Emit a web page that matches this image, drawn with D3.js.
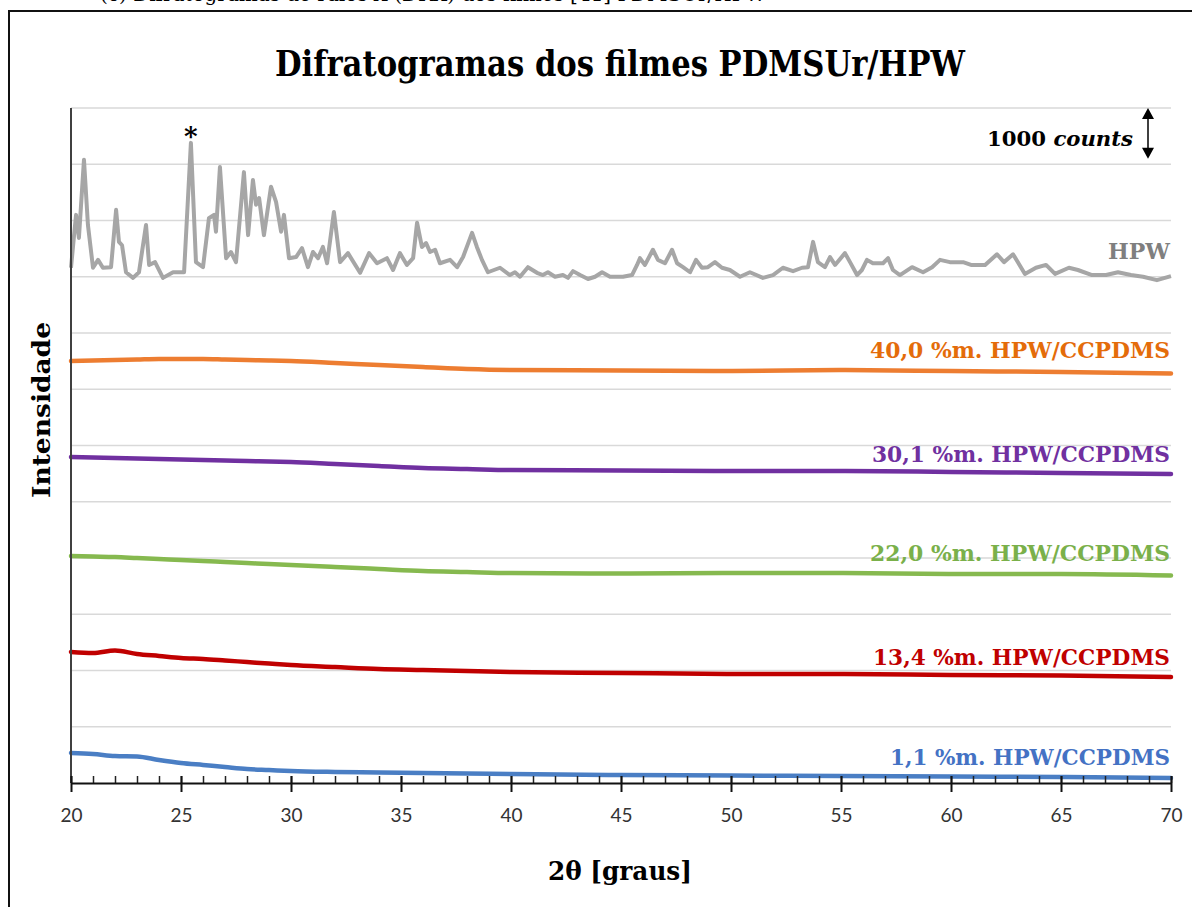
<!DOCTYPE html>
<html>
<head>
<meta charset="utf-8">
<script src="https://cdn.jsdelivr.net/npm/d3@7"></script>
<style>
  body { margin: 0; background: #fff; }
  svg { display: block; }
</style>
</head>
<body>
<svg id="chart"></svg>
<script>
// Chart data
const xTicks = [20, 25, 30, 35, 40, 45, 50, 55, 60, 65, 70];
const angles = [20, 21, 22, 23, 24, 25, 26, 27, 28, 29, 30, 32, 34, 36, 38, 40, 45, 50, 55, 60, 65, 70];

const blueCounts = [533, 516, 480, 471, 409, 356, 320, 284, 249, 231, 213, 196, 187, 178, 169, 160, 142, 133, 124, 116, 107, 89];
const redCounts = [2329, 2311, 2356, 2293, 2258, 2222, 2204, 2178, 2151, 2124, 2098, 2062, 2027, 2009, 1991, 1973, 1956, 1938, 1938, 1920, 1911, 1884];
const greenCounts = [4036, 4027, 4018, 4000, 3982, 3964, 3947, 3929, 3911, 3893, 3876, 3840, 3804, 3769, 3751, 3733, 3724, 3733, 3733, 3716, 3716, 3689];
const purpleCounts = [5796, 5787, 5778, 5769, 5760, 5751, 5742, 5733, 5724, 5716, 5707, 5671, 5636, 5600, 5582, 5564, 5556, 5547, 5547, 5529, 5511, 5493];
const orangeCounts = [7502, 7511, 7520, 7529, 7538, 7538, 7538, 7529, 7520, 7511, 7502, 7467, 7431, 7396, 7360, 7342, 7333, 7324, 7342, 7324, 7307, 7280];

// HPW pattern: [2theta, counts]
const hpwPoints = [
  [20.00, 9160], [20.14, 9740], [20.23, 10100], [20.36, 9690], [20.59, 11080], [20.77, 9920],
  [21.00, 9160], [21.23, 9300], [21.45, 9160], [21.82, 9170], [22.05, 10190], [22.18, 9620],
  [22.32, 9560], [22.50, 9080], [22.82, 8980], [23.09, 9080], [23.41, 9920], [23.55, 9210],
  [23.82, 9260], [24.18, 8980], [24.64, 9080], [25.14, 9080], [25.45, 11380], [25.68, 9260],
  [26.00, 9170], [26.27, 10040], [26.50, 10100], [26.59, 9800], [26.77, 10950], [27.05, 9330],
  [27.27, 9440], [27.50, 9260], [27.86, 10860], [28.05, 9740], [28.27, 10720], [28.41, 10280],
  [28.55, 10400], [28.77, 9740], [29.09, 10600], [29.32, 10330], [29.55, 9800], [29.68, 10100],
  [29.91, 9330], [30.23, 9350], [30.50, 9510], [30.77, 9170], [31.00, 9440], [31.23, 9330],
  [31.45, 9530], [31.64, 9240], [31.95, 10150], [32.23, 9260], [32.59, 9420], [33.14, 9070],
  [33.55, 9420], [33.91, 9240], [34.36, 9330], [34.64, 9120], [34.95, 9420], [35.27, 9210],
  [35.55, 9330], [35.73, 9960], [35.95, 9530], [36.14, 9600], [36.32, 9440], [36.55, 9480],
  [36.77, 9240], [37.23, 9300], [37.55, 9170], [37.82, 9350], [38.23, 9780], [38.45, 9530],
  [38.68, 9300], [38.95, 9080], [39.50, 9160], [39.95, 9030], [40.18, 9080], [40.41, 9000],
  [40.77, 9170], [41.18, 9070], [41.45, 9030], [41.68, 9080], [42.00, 9000], [42.36, 9030],
  [42.59, 8980], [42.82, 9100], [43.14, 9030], [43.50, 8960], [43.82, 9000], [44.14, 9080],
  [44.50, 9000], [45.09, 9000], [45.50, 9030], [45.73, 9210], [45.86, 9330], [46.09, 9210],
  [46.45, 9480], [46.68, 9300], [47.00, 9240], [47.32, 9480], [47.55, 9240], [47.82, 9170],
  [48.14, 9080], [48.41, 9300], [48.68, 9160], [48.95, 9170], [49.27, 9260], [49.59, 9160],
  [49.95, 9120], [50.41, 9000], [50.86, 9080], [51.45, 8980], [51.91, 9030], [52.36, 9160],
  [52.82, 9100], [53.23, 9160], [53.50, 9170], [53.73, 9620], [53.95, 9260], [54.27, 9170],
  [54.50, 9350], [54.73, 9210], [55.18, 9420], [55.41, 9260], [55.73, 9030], [55.95, 9120],
  [56.18, 9300], [56.45, 9240], [56.91, 9240], [57.14, 9330], [57.36, 9120], [57.68, 9030],
  [58.23, 9170], [58.73, 9080], [59.14, 9170], [59.50, 9300], [59.95, 9260], [60.55, 9260],
  [60.91, 9210], [61.55, 9210], [62.09, 9400], [62.41, 9260], [62.82, 9400], [63.36, 9050],
  [63.86, 9160], [64.32, 9210], [64.73, 9050], [65.36, 9160], [65.77, 9120], [66.41, 9030],
  [67.05, 9030], [67.59, 9080], [68.18, 9030], [68.73, 9000], [69.36, 8940], [70.00, 9010]
];

const seriesNames = ["1,1 %m. HPW/CCPDMS", "13,4 %m. HPW/CCPDMS", "22,0 %m. HPW/CCPDMS", "30,1 %m. HPW/CCPDMS", "40,0 %m. HPW/CCPDMS"];
const seriesValues = [blueCounts, redCounts, greenCounts, purpleCounts, orangeCounts];
const lineColors = ["#4a7ec4", "#c00000", "#86b94f", "#7030a0", "#ed7d31"];
const labelColors = ["#4472c4", "#c00000", "#7ab04a", "#7030a0", "#e46c0a"];

// Layout
const W = 1192, H = 907;
const margin = { top: 108, right: 21, bottom: 124, left: 71 };
const width = W - margin.left - margin.right;
const height = H - margin.top - margin.bottom;
const serif = "'DejaVu Serif', 'Liberation Serif', serif";

const svg = d3.select("#chart").attr("width", W).attr("height", H);

// Frame, with the bottom edge of the page caption showing above it
svg.append("clipPath").attr("id", "topclip")
  .append("rect").attr("x", 0).attr("y", 0).attr("width", W).attr("height", 10);
svg.append("text")
  .attr("clip-path", "url(#topclip)")
  .attr("x", 100).attr("y", 1)
  .attr("font-family", serif).attr("font-size", 20)
  .text("(c) Difratogramas de raios-X (DRX) dos filmes [41] PDMSUr/HPW");
svg.append("rect")
  .attr("x", 9).attr("y", 11).attr("width", W - 8).attr("height", H)
  .attr("fill", "none").attr("stroke", "#111").attr("stroke-width", 2);

// Title
svg.append("text")
  .attr("x", 620).attr("y", 76)
  .attr("text-anchor", "middle")
  .attr("font-family", serif).attr("font-weight", "bold").attr("font-size", 35)
  .attr("textLength", 690).attr("lengthAdjust", "spacingAndGlyphs")
  .text("Difratogramas dos filmes PDMSUr/HPW");

const g = svg.append("g").attr("transform", `translate(${margin.left},${margin.top})`);

// Scales
const x = d3.scaleLinear().domain([20, 70]).range([0, width]);
const y = d3.scaleLinear().domain([0, 12000]).range([height, 0]);

// Gridlines
g.append("g")
  .selectAll("line")
  .data(d3.range(1000, 12001, 1000))
  .join("line")
  .attr("x1", 0).attr("x2", width)
  .attr("y1", (d) => y(d)).attr("y2", (d) => y(d))
  .attr("stroke", "#d9d9d9").attr("stroke-width", 1.5);

// Series
const line = d3.line().x((d) => x(d[0])).y((d) => y(d[1]));

g.append("path")
  .datum(hpwPoints)
  .attr("d", line)
  .attr("fill", "none")
  .attr("stroke", "#a6a6a6")
  .attr("stroke-width", 4)
  .attr("stroke-linejoin", "round");

seriesValues.forEach((vals, i) => {
  const pts = angles.map((a, j) => [a, vals[j]]);
  g.append("path")
    .datum(pts)
    .attr("d", line.curve(d3.curveMonotoneX))
    .attr("fill", "none")
    .attr("stroke", lineColors[i])
    .attr("stroke-width", 4.5)
    .attr("stroke-linecap", "round");
});

// Y axis line (no labels)
g.append("line")
  .attr("x1", 0).attr("x2", 0).attr("y1", 0).attr("y2", height)
  .attr("stroke", "#404040").attr("stroke-width", 2);

// X axis: minor ticks inside, major ticks crossing
const xAxis = g.append("g").attr("transform", `translate(0,${height})`);
xAxis.append("g")
  .call(d3.axisTop(x).tickValues(d3.range(20, 71, 1)).tickSize(7).tickFormat(""))
  .call((a) => a.select(".domain").remove())
  .selectAll("line").attr("stroke", "#222").attr("stroke-width", 1.5);
xAxis.append("g")
  .call(d3.axisBottom(x).tickValues(xTicks).tickSize(9).tickSizeOuter(0).tickPadding(17))
  .call((a) => a.select(".domain").attr("stroke", "#111").attr("stroke-width", 2))
  .call((a) => a.selectAll(".tick line").attr("stroke", "#111").attr("stroke-width", 2).attr("y1", -7))
  .call((a) => a.selectAll(".tick text")
    .attr("font-family", "Lato, 'Open Sans', sans-serif")
    .attr("font-size", 19).attr("fill", "#333"));

// Axis titles
svg.append("text")
  .attr("x", 620).attr("y", 880)
  .attr("text-anchor", "middle")
  .attr("font-family", serif).attr("font-weight", "bold").attr("font-size", 26)
  .attr("textLength", 144).attr("lengthAdjust", "spacingAndGlyphs")
  .text("2θ [graus]");
svg.append("text")
  .attr("transform", "translate(50,410) rotate(-90)")
  .attr("text-anchor", "middle")
  .attr("font-family", serif).attr("font-weight", "bold").attr("font-size", 24)
  .attr("textLength", 176).attr("lengthAdjust", "spacingAndGlyphs")
  .text("Intensidade");

// Series labels
const labelBaselines = [765, 665, 561, 462, 358];
const labelWidths = [280, 297, 300, 298, 300];
seriesNames.forEach((name, i) => {
  svg.append("text")
    .attr("x", 1170).attr("y", labelBaselines[i])
    .attr("text-anchor", "end")
    .attr("font-family", serif).attr("font-weight", "bold").attr("font-size", 22)
    .attr("textLength", labelWidths[i]).attr("lengthAdjust", "spacingAndGlyphs")
    .attr("fill", labelColors[i])
    .text(name);
});
svg.append("text")
  .attr("x", 1170).attr("y", 259)
  .attr("text-anchor", "end")
  .attr("font-family", serif).attr("font-weight", "bold").attr("font-size", 22)
  .attr("textLength", 62).attr("lengthAdjust", "spacingAndGlyphs")
  .attr("fill", "#7f7f7f")
  .text("HPW");

// Asterisk over the 25.4 peak
svg.append("text")
  .attr("x", margin.left + x(25.45)).attr("y", 145)
  .attr("text-anchor", "middle")
  .attr("font-family", serif).attr("font-weight", "bold").attr("font-size", 26)
  .text("*");

// Scale bar: 1000 counts
const bar = svg.append("text")
  .attr("x", 1133).attr("y", 146)
  .attr("text-anchor", "end")
  .attr("font-family", serif).attr("font-weight", "bold").attr("font-size", 21)
  .attr("textLength", 146).attr("lengthAdjust", "spacingAndGlyphs");
bar.append("tspan").text("1000 ");
bar.append("tspan").attr("font-style", "italic").text("counts");

const ax = 1148, yTop = margin.top + y(12000), yBot = margin.top + y(11100);
svg.append("line")
  .attr("x1", ax).attr("x2", ax).attr("y1", yTop + 8).attr("y2", yBot - 8)
  .attr("stroke", "#000").attr("stroke-width", 1.5);
svg.append("path")
  .attr("d", `M${ax},${yTop} l-6,11 h12 Z M${ax},${yBot} l-6,-11 h12 Z`)
  .attr("fill", "#000");
</script>
</body>
</html>
